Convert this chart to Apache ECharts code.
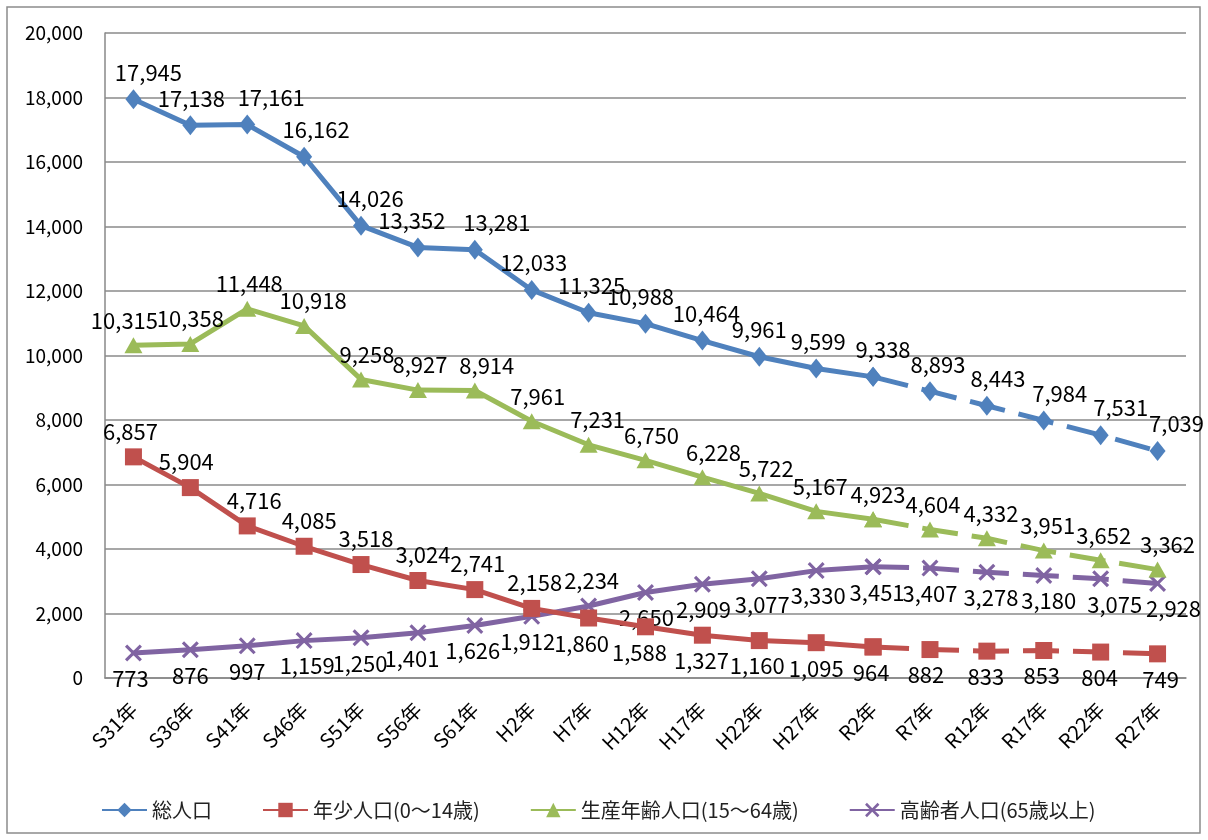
<!DOCTYPE html>
<html><head><meta charset="utf-8">
<script src="https://cdn.jsdelivr.net/npm/echarts@6/dist/echarts.min.js"></script>
<style>html,body{margin:0;padding:0;background:#fff}#c{width:1208px;height:840px}</style>
</head><body><div id="c"></div>
<script>
// ---- data ----
const categories = ['S31年','S36年','S41年','S46年','S51年','S56年','S61年','H2年','H7年','H12年','H17年','H22年','H27年','R2年','R7年','R12年','R17年','R22年','R27年'];
const totalPop = [17945,17138,17161,16162,14026,13352,13281,12033,11325,10988,10464,9961,9599,9338,8893,8443,7984,7531,7039];
const youthPop = [6857,5904,4716,4085,3518,3024,2741,2158,1860,1588,1327,1160,1095,964,882,833,853,804,749];
const workingPop = [10315,10358,11448,10918,9258,8927,8914,7961,7231,6750,6228,5722,5167,4923,4604,4332,3951,3652,3362];
const elderlyPop = [773,876,997,1159,1250,1401,1626,1912,2234,2650,2909,3077,3330,3451,3407,3278,3180,3075,2928];
const seriesNames = ['総人口','年少人口(0～14歳)','生産年齢人口(15～64歳)','高齢者人口(65歳以上)'];
const yTicks = {min:0, max:20000, interval:2000};
const lastActual = 13; // R2年: solid up to here, dashed (projection) after

// ---- style ----
const colors = ['#4F81BD','#C0504D','#9BBB59','#8064A2'];
const symbols = ['diamond','rect','triangle','path://M0,1.3 L1.3,0 L5,3.7 L8.7,0 L10,1.3 L6.3,5 L10,8.7 L8.7,10 L5,6.3 L1.3,10 L0,8.7 L3.7,5 Z'];
const symbolSizes = [[16,20],[17,17],[18,16],[17,17]];
const FONT = '"Noto Sans CJK JP", "Noto Sans", sans-serif';
// horizontal nudges of the data labels (pixels), as in the reference
const labelDx = [
  [15,1,24,12,9,-6,22,2,3,-5,4,0,2,10,8,11,16,20,19],
  [-3,-4,7,5,5,5,3,3,-7,-6,-1,-2,0,-2,-4,-1,-2,-1,3],
  [-9,0,2,9,6,2,12,6,9,6,11,7,4,5,3,4,4,3,10],
  [-3,0,0,3,-1,-6,-2,-4,3,1,1,3,2,4,0,4,5,14,16]
];
function labelPos(s, i){
  if (s === 0 || s === 2) return 'top';
  if (s === 1) return i <= 7 ? 'top' : 'bottom';
  return i === 8 ? 'top' : 'bottom';
}

function buildData(s, arr, part){
  return arr.map((v,i)=>{
    const inPart = part === 'solid' ? i <= lastActual : i >= lastActual;
    if (!inPart) return '-';
    const showLabel = part === 'solid' ? true : i > lastActual;
    return {value:v, label:{show:showLabel, position:labelPos(s,i), offset:[labelDx[s][i],0]}};
  });
}

const allData = [totalPop, youthPop, workingPop, elderlyPop];
const series = [];
allData.forEach((arr,s)=>{
  ['solid','dashed'].forEach(part=>{
    series.push({
      name: seriesNames[s],
      type:'line',
      data: buildData(s, arr, part),
      symbol: symbols[s],
      symbolSize: symbolSizes[s],
      showAllSymbol:true,
      z: 10 - s,
      lineStyle:{color:colors[s], width:5, type: part==='solid' ? 'solid' : [36,14]},
      itemStyle:{color:colors[s]},
      label:{show:true, distance:6, color:'#000', fontSize:22, fontFamily:FONT,
        formatter:p=>p.value.toLocaleString('en-US')},
      emphasis:{disabled:true},
      animation:false
    });
  });
});

const chart = echarts.init(document.getElementById('c'));
chart.setOption({
  animation:false,
  color:colors,
  textStyle:{fontFamily:FONT},
  grid:{left:105, right:22, top:33, bottom:162},
  legend:{
    data:seriesNames,
    top:795, left:96,
    itemWidth:45, itemHeight:18, itemGap:50,
    textStyle:{fontSize:20, color:'#222', fontFamily:FONT}
  },
  xAxis:{
    type:'category', data:categories, boundaryGap:true,
    axisLine:{lineStyle:{color:'#888', width:1.5}},
    axisTick:{show:false},
    axisLabel:{rotate:45, fontSize:20, color:'#000', margin:28, interval:0, fontFamily:FONT}
  },
  yAxis:{
    type:'value', min:yTicks.min, max:yTicks.max, interval:yTicks.interval,
    axisLine:{show:true, lineStyle:{color:'#888', width:1.5}},
    axisTick:{show:false},
    splitLine:{lineStyle:{color:'#8a8a8a', width:1.5}},
    axisLabel:{fontSize:19, color:'#000', margin:22, fontFamily:FONT,
      formatter:v=>v.toLocaleString('en-US')}
  },
  graphic:[{type:'rect', shape:{x:7, y:7, width:1193, height:826}, style:{fill:'none', stroke:'#8c8c8c', lineWidth:1.5}, silent:true, z:-1}],
  series:series
});
</script></body></html>
